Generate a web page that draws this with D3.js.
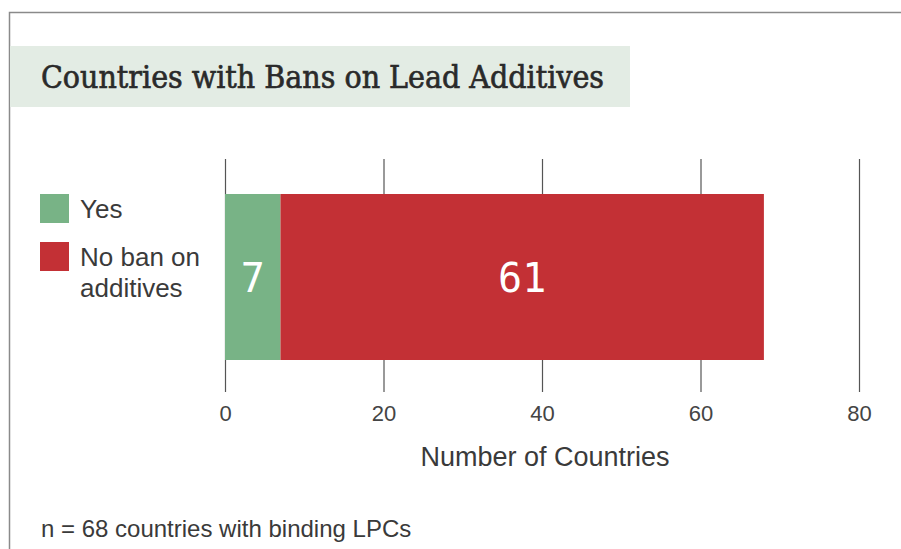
<!DOCTYPE html>
<html>
<head>
<meta charset="utf-8">
<script src="https://cdn.jsdelivr.net/npm/d3@7"></script>
<style>
  body { margin: 0; background: #fff; }
  svg { display: block; }
</style>
</head>
<body>
<script>
  // data
  let categories = ["Yes", "No ban on additives"];
  let counts = [7, 61];
  let colors = ["#78b386", "#c33035"];
  let tickValues = [0, 20, 40, 60, 80];

  let width = 901;
  let height = 549;
  let sans = "'Liberation Sans', Arial, sans-serif";

  let x = d3.scaleLinear([0, 80], [225, 859]);

  let svg = d3.select("body")
    .append("svg")
    .attr("width", width)
    .attr("height", height);

  // frame (top + left edge)
  svg.append("path")
    .attr("d", "M9.5," + height + "V12.5H" + width)
    .attr("fill", "none")
    .attr("stroke", "#8a8a8a")
    .attr("stroke-width", 1.5);

  // title band
  svg.append("rect")
    .attr("x", 10).attr("y", 46)
    .attr("width", 620).attr("height", 61)
    .attr("fill", "#e3ece4");

  svg.append("text")
    .attr("x", 41).attr("y", 88)
    .attr("font-family", "'DejaVu Serif Condensed', 'DejaVu Serif', serif")
    .attr("font-size", 31)
    .attr("fill", "#2a2a2a")
    .attr("stroke", "#2a2a2a")
    .attr("stroke-width", 0.6)
    .attr("textLength", 563)
    .attr("lengthAdjust", "spacingAndGlyphs")
    .text("Countries with Bans on Lead Additives");

  // gridlines + tick labels
  let axis = svg.append("g")
    .attr("transform", "translate(0,159)")
    .call(d3.axisBottom(x).tickValues(tickValues).tickSize(233).tickPadding(13));
  axis.select(".domain").remove();
  axis.selectAll(".tick line").attr("stroke", "#555").attr("stroke-width", 1.2);
  axis.selectAll(".tick text")
    .attr("font-family", sans)
    .attr("font-size", 22)
    .attr("fill", "#444");

  // stacked bar
  let stack = [];
  let acc = 0;
  counts.forEach((c, i) => { stack.push({ x0: acc, x1: acc + c, v: c, i: i }); acc += c; });

  let bars = svg.append("g");
  bars.selectAll("rect")
    .data(stack)
    .enter()
    .append("rect")
    .attr("x", d => x(d.x0))
    .attr("y", 194)
    .attr("width", d => x(d.x1) - x(d.x0))
    .attr("height", 166)
    .attr("fill", d => colors[d.i]);

  bars.selectAll("text")
    .data(stack)
    .enter()
    .append("text")
    .attr("x", d => (x(d.x0) + x(d.x1)) / 2)
    .attr("y", 292)
    .attr("text-anchor", "middle")
    .attr("font-family", "'DejaVu Sans Mono', monospace")
    .attr("font-size", 40)
    .attr("fill", "#fff")
    .text(d => d.v);

  // axis title
  svg.append("text")
    .attr("x", 545).attr("y", 466)
    .attr("text-anchor", "middle")
    .attr("font-family", sans)
    .attr("font-size", 27)
    .attr("fill", "#3a3a3a")
    .text("Number of Countries");

  // legend
  let legend = svg.append("g");
  let ly = [194, 242];
  legend.selectAll("rect")
    .data(categories)
    .enter()
    .append("rect")
    .attr("x", 40)
    .attr("y", (d, i) => ly[i])
    .attr("width", 29).attr("height", 29)
    .attr("fill", (d, i) => colors[i]);

  let labelLines = [["Yes"], ["No ban on", "additives"]];
  labelLines.forEach((lines, i) => {
    let t = legend.append("text")
      .attr("font-family", sans)
      .attr("font-size", 26)
      .attr("fill", "#3a3a3a");
    lines.forEach((s, j) => {
      t.append("tspan").attr("x", 80).attr("y", ly[i] + 24 + j * 31).text(s);
    });
  });

  // footnote
  svg.append("text")
    .attr("x", 41).attr("y", 537)
    .attr("font-family", sans)
    .attr("font-size", 24)
    .attr("fill", "#3a3a3a")
    .text("n = 68 countries with binding LPCs");
</script>
</body>
</html>
